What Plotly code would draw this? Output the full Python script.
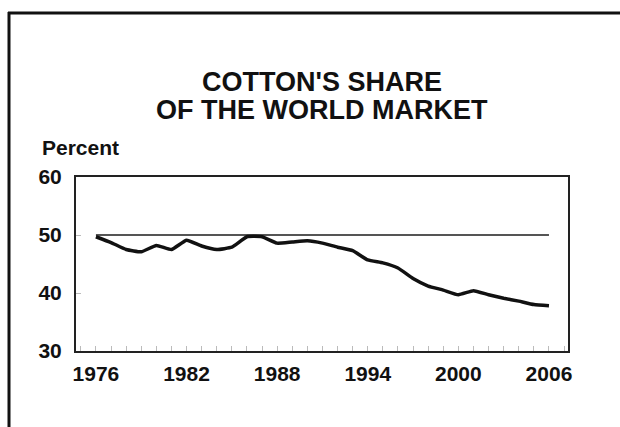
import plotly.graph_objects as go

years = list(range(1976, 2007))
share = [49.7, 48.7, 47.5, 47.1, 48.2, 47.5, 49.1, 48.1, 47.5, 47.9,
         49.7, 49.7, 48.6, 48.8, 49.0, 48.6, 47.9, 47.3, 45.7, 45.2,
         44.3, 42.5, 41.2, 40.5, 39.7, 40.4, 39.7, 39.1, 38.6, 38.0, 37.8]
ref_years = [1976, 2006]
ref_level = [50, 50]
x_ticks = [1976, 1982, 1988, 1994, 2000, 2006]
y_ticks = [30, 40, 50, 60]
title_lines = ["COTTON'S SHARE", "OF THE WORLD MARKET"]

font_family = "Liberation Sans, Arial, sans-serif"

# plot area in pixels
L, R, T, B = 76, 568, 177, 351
W, H = R - L, B - T


def px(x):
    return (x - L) / W


def py(y):
    return (B - y) / H


fig = go.Figure()
fig.add_trace(go.Scatter(
    x=ref_years, y=ref_level, mode="lines",
    line=dict(color="#555", width=2), hoverinfo="skip",
))
fig.add_trace(go.Scatter(
    x=years, y=share, mode="lines",
    line=dict(color="#111", width=3.5, shape="spline", smoothing=0.4),
))

annotations = [
    dict(text=line, xref="paper", yref="paper", x=px(322), y=py(yy),
         xanchor="center", yanchor="middle", showarrow=False,
         font=dict(size=27, weight="bold", color="#111"))
    for line, yy in zip(title_lines, [82, 110])
]
annotations.append(
    dict(text="Percent", xref="paper", yref="paper", x=px(40), y=py(147),
         xanchor="left", yanchor="middle", showarrow=False,
         font=dict(size=21, weight="bold", color="#111"))
)

# outer frame of the scanned page: top and left edges only are visible
frame = dict(color="#111", width=3)
fig.update_layout(
    width=620, height=427,
    margin=dict(l=L, r=620 - R, t=T, b=427 - B),
    paper_bgcolor="#fff", plot_bgcolor="#fff",
    showlegend=False,
    font=dict(family=font_family, color="#111"),
    annotations=annotations,
    shapes=[
        dict(type="line", xref="paper", yref="paper",
             x0=px(8), x1=px(620), y0=py(13), y1=py(13), line=frame),
        dict(type="line", xref="paper", yref="paper",
             x0=px(9), x1=px(9), y0=py(12), y1=py(427), line=frame),
    ],
)

fig.update_xaxes(
    range=[1974.68, 2007.26], tickvals=x_ticks,
    ticks="inside", ticklen=0, showgrid=False, zeroline=False,
    showline=True, linecolor="#222", linewidth=2, mirror=True,
    tickfont=dict(size=21, weight="bold"), ticklabelstandoff=3,
    minor=dict(dtick=1, tick0=1976, ticks="inside", ticklen=5, tickcolor="#bbb", tickwidth=1),
)
fig.update_yaxes(
    range=[30, 60], tickvals=y_ticks,
    ticks="inside", ticklen=5, tickcolor="#bbb", showgrid=False, zeroline=False,
    showline=True, linecolor="#222", linewidth=2, mirror=True,
    tickfont=dict(size=21, weight="bold"), ticklabelstandoff=8,
)

fig.write_html(
    "out.html",
    config={"displayModeBar": False},
    post_script="document.body.style.margin='0';document.body.style.overflow='hidden';",
)
